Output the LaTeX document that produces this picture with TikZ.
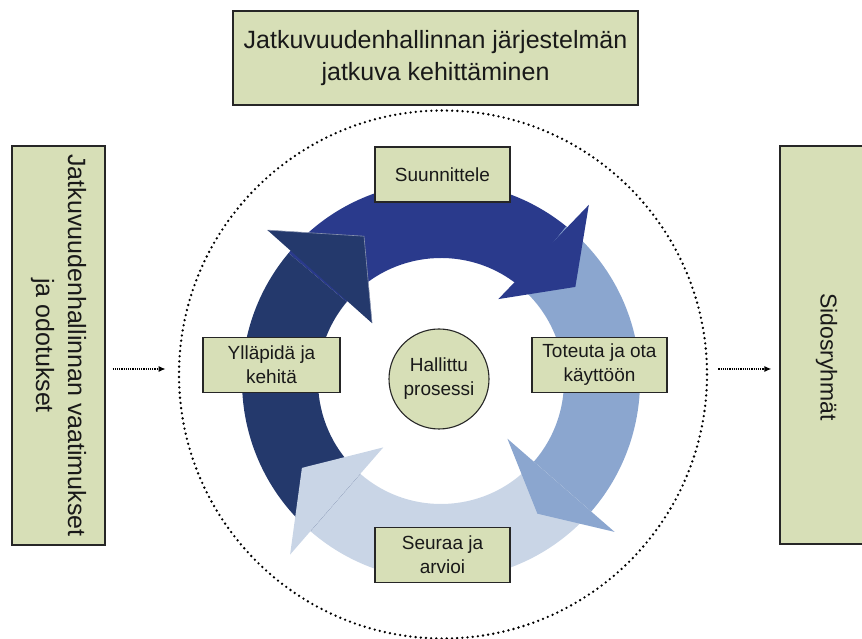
\documentclass[tikz,border=0pt]{standalone}
\usepackage{fontspec}
\setmainfont{Liberation Sans}
\usetikzlibrary{arrows.meta}
\definecolor{laatikko}{HTML}{D7DFB7}
\definecolor{sininen}{HTML}{2A3A8C}
\definecolor{vaalea}{HTML}{8BA6CF}
\definecolor{haalea}{HTML}{C9D5E6}
\definecolor{tumma}{HTML}{24396C}

\begin{document}
\begin{tikzpicture}[x=1pt,y=1pt,
  boksi/.style={draw=black!85,line width=1.1pt,fill=laatikko,align=center,text=black!90,inner sep=0pt},
  pieni/.style={boksi,minimum width=135pt,minimum height=55pt,font=\fontsize{19}{24}\selectfont},
  iso/.style={boksi,font=\fontsize{25}{32}\selectfont},
  nuoli/.style={dash pattern=on 1.2pt off 1pt,line width=1.4pt,-{Latex[length=7pt,width=6pt]}}]
\useasboundingbox (0,0) rectangle (862,639);
% rajaus
\node[circle,draw,line width=2.6pt,dash pattern=on 0pt off 5.2pt,line cap=round,minimum size=528pt,inner sep=0pt] (raja) at (443,264.5) {};
% kehä: ensin rungot, sitten kärjet
\begin{scope}[shift={(441,258)}]
\foreach \a/\b/\c in {140/50/sininen, 51/-41/vaalea, -41/-131/haalea, -131/-220/tumma}
  \fill[\c] (\a:199) arc[start angle=\a,end angle=\b,radius=199] -- (\b:123)
    arc[start angle=\b,end angle=\a,radius=123] -- cycle;
\foreach \o/\t/\i/\r/\c in {50/35/55/100/sininen, -41/-54/-41/88/vaalea,
    -131/-148/-131/88/haalea, 139/118/140/90/tumma}
  \fill[\c] (\o:230) -- (\t:164) -- (\i:\r) -- cycle;
\draw[white!45!tumma,line width=0.6pt] (139:230) -- (118:164) -- (140:90);
\end{scope}
% keskus
\node[boksi,circle,minimum size=100pt,font=\fontsize{19}{24}\selectfont] (keskus) at (439,260) {Hallittu\\prosessi};
% vaiheet
\node[pieni] (suunnittele) at (442.5,464.5) {Suunnittele};
\node[pieni,minimum width=137pt] (yllapida) at (271.5,274) {Ylläpidä ja\\kehitä};
\node[pieni] (toteuta) at (599.5,274) {Toteuta ja ota\\käyttöön};
\node[pieni] (seuraa) at (442.5,84) {Seuraa ja\\arvioi};
% reunat
\node[iso,minimum width=405pt,minimum height=94pt] (kehitys) at (435.5,581) {Jatkuvuudenhallinnan järjestelmän\\jatkuva kehittäminen};
\node[iso,rotate=-90,minimum width=399pt,minimum height=93pt] (vaatimukset) at (58.5,293.5) {Jatkuvuudenhallinnan vaatimukset\\ja odotukset};
\node[iso,rotate=-90,minimum width=398pt,minimum height=93pt,font=\fontsize{23}{30}\selectfont] (sidos) at (826.5,294) {\hspace*{24pt}Sidosryhmät};
% nuolet
\coordinate (taso) at (0,270);
\draw[nuoli,shorten <=7pt,shorten >=12pt] (vaatimukset.north |- taso) -- (raja.west |- taso);
\draw[nuoli,shorten <=10pt,shorten >=8pt] (raja.east |- taso) -- (sidos.south |- taso);
\end{tikzpicture}
\end{document}
